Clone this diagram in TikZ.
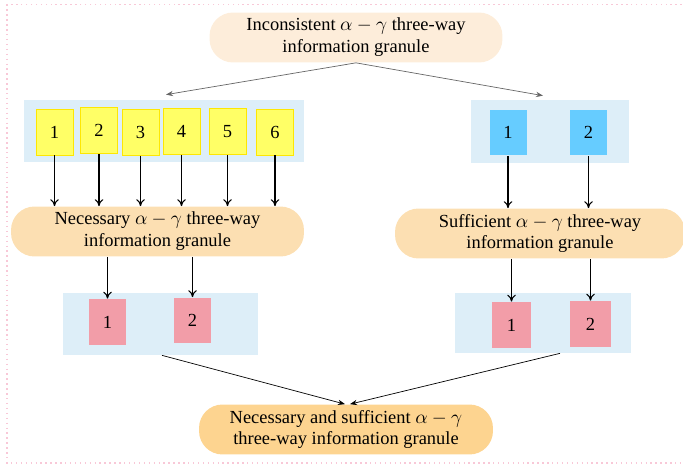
\documentclass[tikz,border=0pt]{standalone}
\usepackage{fontspec}
\setmainfont{Liberation Serif}
\usetikzlibrary{arrows.meta}
\definecolor{peachlight}{RGB}{253,237,218}
\definecolor{peach}{RGB}{252,223,178}
\definecolor{peachdark}{RGB}{253,212,144}
\definecolor{panelblue}{RGB}{221,238,248}
\definecolor{cellyellow}{RGB}{255,255,102}
\definecolor{cellblue}{RGB}{102,204,255}
\definecolor{cellpink}{RGB}{242,157,168}
\definecolor{framepink}{RGB}{248,200,215}
\begin{document}
\begin{tikzpicture}[x=0.02cm,y=-0.02cm]
        \tikzstyle{granule}=[rounded corners=0.47cm, minimum width=5.86cm, minimum height=1.0cm, inner sep=0pt, align=center, font=\fontsize{10.5}{12.5}\selectfont];
        \tikzstyle{panel}=[fill=panelblue, inner sep=0pt];
        \tikzstyle{cell}=[minimum width=0.74cm, minimum height=0.92cm, inner sep=0pt, font=\fontsize{10.5}{12.5}\selectfont];
        \tikzstyle{down}=[semithick, -{To[length=4pt,width=5pt]}];
        \tikzstyle{split}=[gray!80!black, thin, -{Stealth[length=4pt,width=3pt]}];
        \tikzstyle{merge}=[thin, -{Stealth[length=4pt,width=3pt]}];
        \useasboundingbox (0,0) rectangle (683,466);
        \draw[framepink, dotted, line width=0.8pt] (7,4.5) rectangle (700,463);
        %granules
        \node[granule, fill=peachlight] (top) at (356,37.5) {Inconsistent $\alpha-\gamma$ three-way\\information granule};
        \node[granule, fill=peach] (nec) at (157.5,231.5) {Necessary $\alpha-\gamma$ three-way\\information granule};
        \node[granule, fill=peach, minimum width=5.8cm] (suf) at (540,233.5) {Sufficient $\alpha-\gamma$ three-way\\information granule};
        \node[granule, fill=peachdark, minimum width=5.88cm] (fin) at (346,429.5) {Necessary and sufficient $\alpha-\gamma$\\three-way information granule};
        %panels
        \node[panel, minimum width=5.6cm, minimum height=1.24cm] (lp) at (164,131) {};
        \node[panel, minimum width=3.16cm, minimum height=1.26cm] (rp) at (550,131.5) {};
        \node[panel, minimum width=3.9cm, minimum height=1.24cm] (lq) at (160.5,324) {};
        \node[panel, minimum width=3.52cm, minimum height=1.2cm] (rq) at (543,323) {};
        %yellow cells
        \node[cell, fill=cellyellow, draw=yellow!90!orange] (y1) at (54.5,132) {1};
        \node[cell, fill=cellyellow, draw=yellow!90!orange] (y2) at (99,130.5) {2};
        \node[cell, fill=cellyellow, draw=yellow!90!orange] (y3) at (140.5,132.5) {3};
        \node[cell, fill=cellyellow, draw=yellow!90!orange] (y4) at (181.5,131.5) {4};
        \node[cell, fill=cellyellow, draw=yellow!90!orange] (y5) at (227.5,131.5) {5};
        \node[cell, fill=cellyellow, draw=yellow!90!orange] (y6) at (275,132) {6};
        %blue cells
        \node[cell, fill=cellblue] (b1) at (508,132.5) {1};
        \node[cell, fill=cellblue] (b2) at (588.5,132.5) {2};
        %pink cells
        \node[cell, fill=cellpink] (p1) at (107.5,322) {1};
        \node[cell, fill=cellpink] (p2) at (192.5,320.5) {2};
        \node[cell, fill=cellpink, minimum width=0.78cm] (q1) at (511.5,325) {1};
        \node[cell, fill=cellpink, minimum width=0.82cm] (q2) at (590.5,324) {2};
        %arrows
        \draw[split] (top.south) -- ([xshift=0.04cm,yshift=0.1cm]lp.north);
        \draw[split] (top.south) -- ([xshift=-0.14cm,yshift=0.08cm]rp.north);
        \foreach \c in {y1,y2,y3,y4,y5,y6}
            \draw[down] (\c.south) -- (\c.south |- nec.north);
        \foreach \c in {b1,b2}
            \draw[down] (\c.south) -- (\c.south |- suf.north);
        \foreach \c in {p1,p2}
            \draw[down] (\c.north |- nec.south) -- (\c.north);
        \foreach \c in {q1,q2}
            \draw[down] (\c.north |- suf.south) -- (\c.north);
        \draw[merge] ([xshift=0.03cm]lq.south) -- ([xshift=-0.02cm]fin.north);
        \draw[merge] ([xshift=0.34cm]rq.south) -- ([xshift=0.08cm]fin.north);
\end{tikzpicture}
\end{document}
